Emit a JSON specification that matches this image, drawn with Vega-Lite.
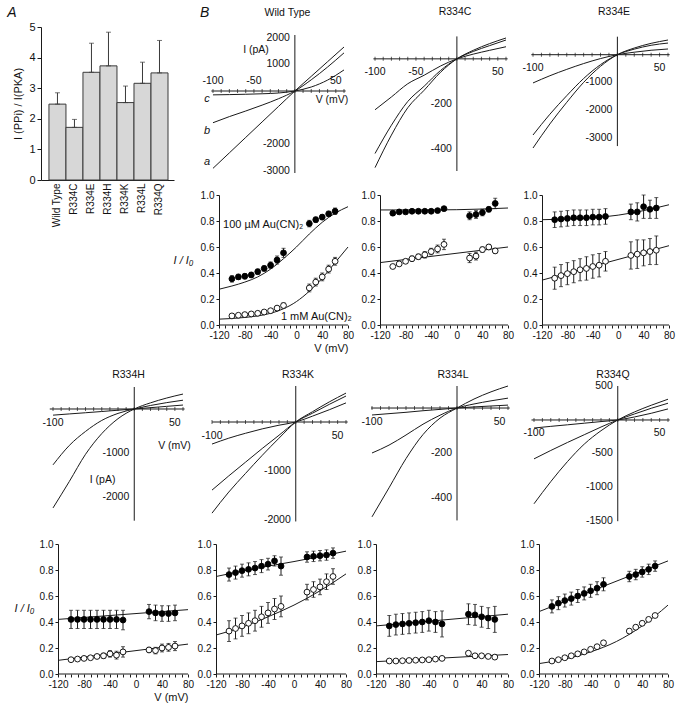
{
"$schema": "https://vega.github.io/schema/vega-lite/v6.json",
"padding": {"left": 7, "top": 5, "right": 5, "bottom": 5},
"background": "white",
"config": {"view": {"stroke": null}, "font": "Liberation Sans",
 "axis": {"grid": false, "domainColor": "#1a1a1a", "tickColor": "#1a1a1a", "labelColor": "#111111", "titleColor": "#111111", "titleFontWeight": "normal", "labelFlush": false},
 "title": {"fontWeight": "normal", "color": "#111111", "fontSize": 10.5},
 "text": {"color": "#111111"}},
"datasets": {
 "ivticks": [{"V":-100,"I":0},{"V":-90,"I":0},{"V":-80,"I":0},{"V":-70,"I":0},{"V":-60,"I":0},{"V":-50,"I":0},{"V":-40,"I":0},{"V":-30,"I":0},{"V":-20,"I":0},{"V":-10,"I":0},{"V":0,"I":0},{"V":10,"I":0},{"V":20,"I":0},{"V":30,"I":0},{"V":40,"I":0},{"V":50,"I":0},{"V":60,"I":0}]
},
"columns": 4,
"bounds": "flush",
"spacing": {"row": 15, "column": 24},
"concat": [
 {"width": 133, "height": 153,
  "data": {"values": [{"mutant":"Wild Type","ratio":2.48,"upper":2.85},{"mutant":"R334C","ratio":1.72,"upper":1.98},{"mutant":"R334E","ratio":3.52,"upper":4.47},{"mutant":"R334H","ratio":3.73,"upper":4.83},{"mutant":"R334K","ratio":2.53,"upper":3.07},{"mutant":"R334L","ratio":3.16,"upper":3.85},{"mutant":"R334Q","ratio":3.5,"upper":4.56}]},
  "encoding": {"x": {"field": "mutant", "type": "nominal", "sort": null, "scale": {"paddingInner": 0, "paddingOuter": 0.41, "align": 0.57},
     "axis": {"title": null, "labelAngle": -90, "ticks": false, "labelFontSize": 10, "labelPadding": 3}},
   "y": {"field": "ratio", "type": "quantitative", "scale": {"domain": [0, 5], "nice": false},
      "axis": {"title": "I (PPi) / I(PKA)", "values": [0,1,2,3,4,5], "format": "d", "tickSize": 4, "labelFontSize": 11, "titleFontSize": 11, "titlePadding": 5, "labelPadding": 2}}},
  "layer": [
   {"mark": {"type": "bar", "fill": "#d7d7d7", "stroke": "#3a3a3a", "strokeWidth": 1}},
   {"mark": {"type": "errorbar", "ticks": {"size": 5}, "color": "#3a3a3a", "thickness": 1}, "encoding": {"y2": {"field": "upper"}}},
   {"data": {"values": [{"mutant":"Wild Type","ratio":5.46,"t":"A"}]}, "mark": {"type": "text", "fontSize": 14, "fontStyle": "italic", "dx": -45.5}, "encoding": {"text": {"field": "t", "type": "nominal"}}}
  ]},
 {"width": 132, "height": 144,
  "encoding": {"x": {"field": "V", "type": "quantitative", "scale": {"domain": [-101.2, 60], "nice": false, "zero": false}, "axis": null},
               "y": {"field": "I", "type": "quantitative", "scale": {"domain": [-3000, 2400], "nice": false, "zero": false}, "axis": null}},
  "layer": [
   {"data": {"values": [
     {"V":-100,"I":-2900,"tr":"a"},{"V":-80,"I":-2320,"tr":"a"},{"V":-60,"I":-1740,"tr":"a"},{"V":-40,"I":-1160,"tr":"a"},{"V":-20,"I":-580,"tr":"a"},{"V":0,"I":0,"tr":"a"},{"V":20,"I":550,"tr":"a"},{"V":40,"I":1100,"tr":"a"},{"V":60,"I":1650,"tr":"a"},
     {"V":-100,"I":-1190,"tr":"b"},{"V":-80,"I":-960,"tr":"b"},{"V":-60,"I":-750,"tr":"b"},{"V":-40,"I":-530,"tr":"b"},{"V":-20,"I":-290,"tr":"b"},{"V":0,"I":0,"tr":"b"},{"V":20,"I":420,"tr":"b"},{"V":40,"I":900,"tr":"b"},{"V":60,"I":1430,"tr":"b"},
     {"V":-100,"I":-145,"tr":"c"},{"V":-80,"I":-135,"tr":"c"},{"V":-60,"I":-122,"tr":"c"},{"V":-40,"I":-104,"tr":"c"},{"V":-20,"I":-75,"tr":"c"},{"V":0,"I":0,"tr":"c"},{"V":20,"I":150,"tr":"c"},{"V":40,"I":410,"tr":"c"},{"V":60,"I":790,"tr":"c"}]},
    "mark": {"type": "line", "color": "#1a1a1a", "strokeWidth": 1, "interpolate": "monotone"}, "encoding": {"detail": {"field": "tr", "type": "nominal"}}},
   {"data": {"values": [{"V": -102, "V2": 62, "I": 0}]}, "mark": {"type": "rule", "color": "#1a1a1a"}, "encoding": {"x2": {"field": "V2"}}},
   {"data": {"values": [{"V": 0, "I": -3075, "I2": 2100}]}, "mark": {"type": "rule", "color": "#1a1a1a"}, "encoding": {"y2": {"field": "I2"}}},
   {"data": {"name": "ivticks"}, "mark": {"type": "tick", "orient": "vertical", "size": 4, "thickness": 1, "color": "#1a1a1a"}},
   {"data": {"values": [{"V":-100,"I":0,"t":"-100"},{"V":-50,"I":0,"t":"-50"},{"V":50,"I":0,"t":"50"}]}, "mark": {"type": "text", "fontSize": 10.5, "dy": -10}, "encoding": {"text": {"field": "t", "type": "nominal"}}},
   {"data": {"values": [{"V":0,"I":2000,"t":"2000"},{"V":0,"I":1000,"t":"1000"},{"V":0,"I":-2000,"t":"-2000"},{"V":0,"I":-3000,"t":"-3000"}]}, "mark": {"type": "text", "fontSize": 10.5, "align": "right", "dx": -5}, "encoding": {"text": {"field": "t", "type": "nominal"}}},
   {"data": {"values": [{"V":-47.5,"I":1537,"t":"I (pA)"},{"V":45.3,"I":-337,"t":"V (mV)"},{"V":-9,"I":2943,"t":"Wild Type"}]}, "mark": {"type": "text", "fontSize": 10.5}, "encoding": {"text": {"field": "t", "type": "nominal"}}},
   {"data": {"values": [{"V":-107.3,"I":-300,"t":"c"},{"V":-107.3,"I":-1500,"t":"b"},{"V":-107.3,"I":-2662,"t":"a"}]}, "mark": {"type": "text", "fontSize": 11, "fontStyle": "italic"}, "encoding": {"text": {"field": "t", "type": "nominal"}}},
   {"data": {"values": [{"V":-110,"I":2943,"t":"B"}]}, "mark": {"type": "text", "fontSize": 14, "fontStyle": "italic"}, "encoding": {"text": {"field": "t", "type": "nominal"}}}
  ]},
 {"width": 134, "height": 144,
  "encoding": {"x": {"field": "V", "type": "quantitative", "scale": {"domain": [-103.7, 60], "nice": false, "zero": false}, "axis": null},
               "y": {"field": "I", "type": "quantitative", "scale": {"domain": [-500, 142], "nice": false, "zero": false}, "axis": null}},
  "layer": [
   {"data": {"values": [
     {"V":-100,"I":-485,"tr":"a"},{"V":-80,"I":-340,"tr":"a"},{"V":-60,"I":-218,"tr":"a"},{"V":-40,"I":-140,"tr":"a"},{"V":-20,"I":-60,"tr":"a"},{"V":0,"I":0,"tr":"a"},{"V":20,"I":38,"tr":"a"},{"V":40,"I":68,"tr":"a"},{"V":60,"I":93,"tr":"a"},
     {"V":-100,"I":-422,"tr":"b"},{"V":-80,"I":-296,"tr":"b"},{"V":-60,"I":-190,"tr":"b"},{"V":-40,"I":-122,"tr":"b"},{"V":-20,"I":-52,"tr":"b"},{"V":0,"I":0,"tr":"b"},{"V":20,"I":33,"tr":"b"},{"V":40,"I":59,"tr":"b"},{"V":60,"I":84,"tr":"b"},
     {"V":-100,"I":-227,"tr":"c"},{"V":-80,"I":-170,"tr":"c"},{"V":-60,"I":-111,"tr":"c"},{"V":-40,"I":-73,"tr":"c"},{"V":-20,"I":-32,"tr":"c"},{"V":0,"I":0,"tr":"c"},{"V":20,"I":21,"tr":"c"},{"V":40,"I":38,"tr":"c"},{"V":60,"I":54,"tr":"c"}]},
    "mark": {"type": "line", "color": "#1a1a1a", "strokeWidth": 1, "interpolate": "monotone"}, "encoding": {"detail": {"field": "tr", "type": "nominal"}}},
   {"data": {"values": [{"V": -102, "V2": 62, "I": 0}]}, "mark": {"type": "rule", "color": "#1a1a1a"}, "encoding": {"x2": {"field": "V2"}}},
   {"data": {"values": [{"V": 0, "I": -500, "I2": 100}]}, "mark": {"type": "rule", "color": "#1a1a1a"}, "encoding": {"y2": {"field": "I2"}}},
   {"data": {"name": "ivticks"}, "mark": {"type": "tick", "orient": "vertical", "size": 4, "thickness": 1, "color": "#1a1a1a"}},
   {"data": {"values": [{"V":-100,"I":0,"t":"-100"},{"V":-50,"I":0,"t":"-50"},{"V":50,"I":0,"t":"50"}]}, "mark": {"type": "text", "fontSize": 10.5, "dy": 13}, "encoding": {"text": {"field": "t", "type": "nominal"}}},
   {"data": {"values": [{"V":0,"I":-200,"t":"-200"},{"V":0,"I":-400,"t":"-400"}]}, "mark": {"type": "text", "fontSize": 10.5, "align": "right", "dx": -5}, "encoding": {"text": {"field": "t", "type": "nominal"}}},
   {"data": {"values": [{"V":-2.3,"I":207,"t":"R334C"}]}, "mark": {"type": "text", "fontSize": 10.5}, "encoding": {"text": {"field": "t", "type": "nominal"}}}
  ]},
 {"width": 136, "height": 144,
  "encoding": {"x": {"field": "V", "type": "quantitative", "scale": {"domain": [-101.2, 60], "nice": false, "zero": false}, "axis": null},
               "y": {"field": "I", "type": "quantitative", "scale": {"domain": [-4200, 1000], "nice": false, "zero": false}, "axis": null}},
  "layer": [
   {"data": {"values": [
     {"V":-100,"I":-3370,"tr":"a"},{"V":-80,"I":-2500,"tr":"a"},{"V":-60,"I":-1720,"tr":"a"},{"V":-40,"I":-1000,"tr":"a"},{"V":-20,"I":-420,"tr":"a"},{"V":0,"I":0,"tr":"a"},{"V":20,"I":240,"tr":"a"},{"V":40,"I":410,"tr":"a"},{"V":60,"I":530,"tr":"a"},
     {"V":-100,"I":-2900,"tr":"b"},{"V":-80,"I":-2150,"tr":"b"},{"V":-60,"I":-1480,"tr":"b"},{"V":-40,"I":-860,"tr":"b"},{"V":-20,"I":-360,"tr":"b"},{"V":0,"I":0,"tr":"b"},{"V":20,"I":200,"tr":"b"},{"V":40,"I":340,"tr":"b"},{"V":60,"I":420,"tr":"b"},
     {"V":-100,"I":-1020,"tr":"c"},{"V":-80,"I":-760,"tr":"c"},{"V":-60,"I":-530,"tr":"c"},{"V":-40,"I":-320,"tr":"c"},{"V":-20,"I":-140,"tr":"c"},{"V":0,"I":0,"tr":"c"},{"V":20,"I":90,"tr":"c"},{"V":40,"I":160,"tr":"c"},{"V":60,"I":206,"tr":"c"}]},
    "mark": {"type": "line", "color": "#1a1a1a", "strokeWidth": 1, "interpolate": "monotone"}, "encoding": {"detail": {"field": "tr", "type": "nominal"}}},
   {"data": {"values": [{"V": -102, "V2": 62, "I": 0}]}, "mark": {"type": "rule", "color": "#1a1a1a"}, "encoding": {"x2": {"field": "V2"}}},
   {"data": {"values": [{"V": 0, "I": -3300, "I2": 650}]}, "mark": {"type": "rule", "color": "#1a1a1a"}, "encoding": {"y2": {"field": "I2"}}},
   {"data": {"name": "ivticks"}, "mark": {"type": "tick", "orient": "vertical", "size": 4, "thickness": 1, "color": "#1a1a1a"}},
   {"data": {"values": [{"V":-100,"I":0,"t":"-100"},{"V":50,"I":0,"t":"50"}]}, "mark": {"type": "text", "fontSize": 10.5, "dy": 13}, "encoding": {"text": {"field": "t", "type": "nominal"}}},
   {"data": {"values": [{"V":0,"I":-1000,"t":"-1000"},{"V":0,"I":-2000,"t":"-2000"},{"V":0,"I":-3000,"t":"-3000"}]}, "mark": {"type": "text", "fontSize": 10.5, "align": "right", "dx": -5}, "encoding": {"text": {"field": "t", "type": "nominal"}}},
   {"data": {"values": [{"V":-4,"I":1524,"t":"R334E"}]}, "mark": {"type": "text", "fontSize": 10.5}, "encoding": {"text": {"field": "t", "type": "nominal"}}}
  ]},
 {"width": 10, "height": 176, "data": {"values": []}, "mark": "point"},
 {"width": 136, "height": 130,
  "encoding": {
   "x": {"field": "V", "type": "quantitative", "scale": {"domain": [-130.9, 80], "nice": false, "zero": false},
     "axis": {"values": [-120,-110,-100,-90,-80,-70,-60,-50,-40,-30,-20,-10,0,10,20,30,40,50,60,70,80], "labelExpr": "datum.value % 40 === 0 ? '' + datum.value : ''", "domain": false, "tickSize": 3, "labelFontSize": 10, "labelPadding": 2, "title": "V (mV)", "titleAnchor": "end", "titleFontSize": 11, "titlePadding": 2}},
   "y": {"field": "R", "type": "quantitative", "scale": {"domain": [0, 1], "nice": false, "zero": false},
     "axis": {"values": [0,0.2,0.4,0.6,0.8,1], "format": ".1f", "offset": -7, "tickSize": 3, "labelFontSize": 10, "labelPadding": 2, "title": "I / I₀", "titleAngle": 0, "titleAlign": "right", "titleBaseline": "middle", "titleX": -26, "titleY": 65, "titleFontStyle": "italic", "titleFontSize": 11}}},
  "layer": [
   {"data": {"values": [{"V": -120, "V2": 80, "R": 0}]}, "mark": {"type": "rule", "color": "#1a1a1a"}, "encoding": {"x2": {"field": "V2"}}},
   {"data": {"values": [
     {"V":-120,"R":0.275,"c":"h"},{"V":-100,"R":0.3,"c":"h"},{"V":-80,"R":0.33,"c":"h"},{"V":-60,"R":0.37,"c":"h"},{"V":-40,"R":0.43,"c":"h"},{"V":-20,"R":0.51,"c":"h"},{"V":0,"R":0.6,"c":"h"},{"V":20,"R":0.7,"c":"h"},{"V":40,"R":0.79,"c":"h"},{"V":60,"R":0.86,"c":"h"},{"V":80,"R":0.91,"c":"h"},
     {"V":-120,"R":0.045,"c":"m"},{"V":-100,"R":0.05,"c":"m"},{"V":-80,"R":0.058,"c":"m"},{"V":-60,"R":0.07,"c":"m"},{"V":-40,"R":0.09,"c":"m"},{"V":-20,"R":0.125,"c":"m"},{"V":0,"R":0.18,"c":"m"},{"V":20,"R":0.26,"c":"m"},{"V":40,"R":0.36,"c":"m"},{"V":60,"R":0.48,"c":"m"},{"V":80,"R":0.6,"c":"m"}]},
    "mark": {"type": "line", "color": "#1a1a1a", "strokeWidth": 1, "interpolate": "monotone"}, "encoding": {"detail": {"field": "c", "type": "nominal"}}},
   {"data": {"values": [
     {"V":-100,"R":0.355,"e":0.025,"c":"h"},{"V":-90,"R":0.37,"e":0.02,"c":"h"},{"V":-80,"R":0.375,"e":0.02,"c":"h"},{"V":-70,"R":0.385,"e":0.02,"c":"h"},{"V":-60,"R":0.41,"e":0.02,"c":"h"},{"V":-50,"R":0.435,"e":0.02,"c":"h"},{"V":-40,"R":0.46,"e":0.025,"c":"h"},{"V":-30,"R":0.5,"e":0.03,"c":"h"},{"V":-20,"R":0.555,"e":0.035,"c":"h"},
     {"V":20,"R":0.78,"e":0.025,"c":"h"},{"V":30,"R":0.81,"e":0.02,"c":"h"},{"V":40,"R":0.83,"e":0.02,"c":"h"},{"V":50,"R":0.855,"e":0.02,"c":"h"},{"V":60,"R":0.875,"e":0.025,"c":"h"},
     {"V":-100,"R":0.07,"e":0.01,"c":"m"},{"V":-90,"R":0.075,"e":0.01,"c":"m"},{"V":-80,"R":0.08,"e":0.01,"c":"m"},{"V":-70,"R":0.085,"e":0.01,"c":"m"},{"V":-60,"R":0.09,"e":0.01,"c":"m"},{"V":-50,"R":0.1,"e":0.01,"c":"m"},{"V":-40,"R":0.11,"e":0.012,"c":"m"},{"V":-30,"R":0.13,"e":0.015,"c":"m"},{"V":-20,"R":0.15,"e":0.02,"c":"m"},
     {"V":20,"R":0.285,"e":0.03,"c":"m"},{"V":30,"R":0.33,"e":0.03,"c":"m"},{"V":40,"R":0.37,"e":0.03,"c":"m"},{"V":50,"R":0.43,"e":0.03,"c":"m"},{"V":60,"R":0.49,"e":0.03,"c":"m"}]},
    "layer": [
     {"mark": {"type": "errorbar", "ticks": {"size": 4}, "color": "#1a1a1a", "thickness": 1}, "encoding": {"yError": {"field": "e"}}},
     {"mark": {"type": "point", "filled": true, "size": 34, "stroke": "#000000", "strokeWidth": 0.9, "opacity": 1}, "encoding": {"fill": {"field": "c", "type": "nominal", "scale": {"domain": ["h","m"], "range": ["#000000","#ffffff"]}, "legend": null}}}
    ]},
   {"data": {"values": [{"V":-113.8,"R":0.77,"t":"100 µM Au(CN)₂"},{"V":-24,"R":0.062,"t":"1 mM Au(CN)₂"}]}, "mark": {"type": "text", "align": "left", "fontSize": 11}, "encoding": {"text": {"field": "t", "type": "nominal"}}}
  ]},
 {"width": 136, "height": 130,
  "encoding": {
   "x": {"field": "V", "type": "quantitative", "scale": {"domain": [-132.5, 80], "nice": false, "zero": false},
     "axis": {"values": [-120,-110,-100,-90,-80,-70,-60,-50,-40,-30,-20,-10,0,10,20,30,40,50,60,70,80], "labelExpr": "datum.value % 40 === 0 ? '' + datum.value : ''", "domain": false, "tickSize": 3, "labelFontSize": 10, "labelPadding": 2, "title": null}},
   "y": {"field": "R", "type": "quantitative", "scale": {"domain": [0, 1], "nice": false, "zero": false},
     "axis": {"values": [0,0.2,0.4,0.6,0.8,1], "format": ".1f", "offset": -8, "tickSize": 3, "labelFontSize": 10, "labelPadding": 2, "title": null}}},
  "layer": [
   {"data": {"values": [{"V": -120, "V2": 80, "R": 0}]}, "mark": {"type": "rule", "color": "#1a1a1a"}, "encoding": {"x2": {"field": "V2"}}},
   {"data": {"values": [
     {"V":-120,"R":0.885,"c":"h"},{"V":-40,"R":0.885,"c":"h"},{"V":0,"R":0.887,"c":"h"},{"V":40,"R":0.892,"c":"h"},{"V":80,"R":0.9,"c":"h"},
     {"V":-120,"R":0.48,"c":"m"},{"V":-20,"R":0.54,"c":"m"},{"V":80,"R":0.6,"c":"m"}]},
    "mark": {"type": "line", "color": "#1a1a1a", "strokeWidth": 1, "interpolate": "monotone"}, "encoding": {"detail": {"field": "c", "type": "nominal"}}},
   {"data": {"values": [
     {"V":-100,"R":0.86,"e":0.012,"c":"h"},{"V":-90,"R":0.87,"e":0.01,"c":"h"},{"V":-80,"R":0.87,"e":0.01,"c":"h"},{"V":-70,"R":0.875,"e":0.01,"c":"h"},{"V":-60,"R":0.875,"e":0.01,"c":"h"},{"V":-50,"R":0.875,"e":0.01,"c":"h"},{"V":-40,"R":0.875,"e":0.01,"c":"h"},{"V":-30,"R":0.88,"e":0.01,"c":"h"},{"V":-20,"R":0.895,"e":0.012,"c":"h"},
     {"V":20,"R":0.84,"e":0.03,"c":"h"},{"V":30,"R":0.85,"e":0.03,"c":"h"},{"V":40,"R":0.865,"e":0.025,"c":"h"},{"V":50,"R":0.89,"e":0.02,"c":"h"},{"V":60,"R":0.935,"e":0.04,"c":"h"},
     {"V":-100,"R":0.45,"e":0.01,"c":"m"},{"V":-90,"R":0.47,"e":0.012,"c":"m"},{"V":-80,"R":0.49,"e":0.015,"c":"m"},{"V":-70,"R":0.51,"e":0.02,"c":"m"},{"V":-60,"R":0.525,"e":0.02,"c":"m"},{"V":-50,"R":0.54,"e":0.025,"c":"m"},{"V":-40,"R":0.565,"e":0.025,"c":"m"},{"V":-30,"R":0.585,"e":0.03,"c":"m"},{"V":-20,"R":0.62,"e":0.04,"c":"m"},
     {"V":20,"R":0.515,"e":0.035,"c":"m"},{"V":30,"R":0.53,"e":0.03,"c":"m"},{"V":40,"R":0.58,"e":0.02,"c":"m"},{"V":50,"R":0.6,"e":0.02,"c":"m"},{"V":60,"R":0.57,"e":0.02,"c":"m"}]},
    "layer": [
     {"mark": {"type": "errorbar", "ticks": {"size": 4}, "color": "#1a1a1a", "thickness": 1}, "encoding": {"yError": {"field": "e"}}},
     {"mark": {"type": "point", "filled": true, "size": 34, "stroke": "#000000", "strokeWidth": 0.9, "opacity": 1}, "encoding": {"fill": {"field": "c", "type": "nominal", "scale": {"domain": ["h","m"], "range": ["#000000","#ffffff"]}, "legend": null}}}
    ]}
  ]},
 {"width": 137, "height": 130,
  "encoding": {
   "x": {"field": "V", "type": "quantitative", "scale": {"domain": [-135.7, 80], "nice": false, "zero": false},
     "axis": {"values": [-120,-110,-100,-90,-80,-70,-60,-50,-40,-30,-20,-10,0,10,20,30,40,50,60,70,80], "labelExpr": "datum.value % 40 === 0 ? '' + datum.value : ''", "domain": false, "tickSize": 3, "labelFontSize": 10, "labelPadding": 2, "title": null}},
   "y": {"field": "R", "type": "quantitative", "scale": {"domain": [0, 1], "nice": false, "zero": false},
     "axis": {"values": [0,0.2,0.4,0.6,0.8,1], "format": ".1f", "offset": -10, "tickSize": 3, "labelFontSize": 10, "labelPadding": 2, "title": null}}},
  "layer": [
   {"data": {"values": [{"V": -120, "V2": 80, "R": 0}]}, "mark": {"type": "rule", "color": "#1a1a1a"}, "encoding": {"x2": {"field": "V2"}}},
   {"data": {"values": [
     {"V":-120,"R":0.81,"c":"h"},{"V":-80,"R":0.815,"c":"h"},{"V":-40,"R":0.825,"c":"h"},{"V":0,"R":0.845,"c":"h"},{"V":40,"R":0.88,"c":"h"},{"V":80,"R":0.925,"c":"h"},
     {"V":-120,"R":0.345,"c":"m"},{"V":-20,"R":0.478,"c":"m"},{"V":80,"R":0.61,"c":"m"}]},
    "mark": {"type": "line", "color": "#1a1a1a", "strokeWidth": 1, "interpolate": "monotone"}, "encoding": {"detail": {"field": "c", "type": "nominal"}}},
   {"data": {"values": [
     {"V":-100,"R":0.81,"e":0.06,"c":"h"},{"V":-90,"R":0.815,"e":0.06,"c":"h"},{"V":-80,"R":0.82,"e":0.06,"c":"h"},{"V":-70,"R":0.825,"e":0.06,"c":"h"},{"V":-60,"R":0.825,"e":0.06,"c":"h"},{"V":-50,"R":0.825,"e":0.06,"c":"h"},{"V":-40,"R":0.83,"e":0.06,"c":"h"},{"V":-30,"R":0.83,"e":0.06,"c":"h"},{"V":-20,"R":0.835,"e":0.06,"c":"h"},
     {"V":20,"R":0.87,"e":0.06,"c":"h"},{"V":30,"R":0.87,"e":0.07,"c":"h"},{"V":40,"R":0.91,"e":0.09,"c":"h"},{"V":50,"R":0.89,"e":0.07,"c":"h"},{"V":60,"R":0.9,"e":0.08,"c":"h"},
     {"V":-100,"R":0.36,"e":0.085,"c":"m"},{"V":-90,"R":0.38,"e":0.085,"c":"m"},{"V":-80,"R":0.395,"e":0.085,"c":"m"},{"V":-70,"R":0.41,"e":0.085,"c":"m"},{"V":-60,"R":0.425,"e":0.085,"c":"m"},{"V":-50,"R":0.435,"e":0.09,"c":"m"},{"V":-40,"R":0.45,"e":0.09,"c":"m"},{"V":-30,"R":0.46,"e":0.09,"c":"m"},{"V":-20,"R":0.49,"e":0.075,"c":"m"},
     {"V":20,"R":0.535,"e":0.105,"c":"m"},{"V":30,"R":0.545,"e":0.11,"c":"m"},{"V":40,"R":0.555,"e":0.1,"c":"m"},{"V":50,"R":0.565,"e":0.1,"c":"m"},{"V":60,"R":0.575,"e":0.11,"c":"m"}]},
    "layer": [
     {"mark": {"type": "errorbar", "ticks": {"size": 4}, "color": "#1a1a1a", "thickness": 1}, "encoding": {"yError": {"field": "e"}}},
     {"mark": {"type": "point", "filled": true, "size": 34, "stroke": "#000000", "strokeWidth": 0.9, "opacity": 1}, "encoding": {"fill": {"field": "c", "type": "nominal", "scale": {"domain": ["h","m"], "range": ["#000000","#ffffff"]}, "legend": null}}}
    ]}
  ]},
 {"width": 142, "height": 143,
  "encoding": {"x": {"field": "V", "type": "quantitative", "scale": {"domain": [-114.8, 60], "nice": false, "zero": false}, "axis": null},
               "y": {"field": "I", "type": "quantitative", "scale": {"domain": [-2729, 523], "nice": false, "zero": false}, "axis": null}},
  "layer": [
   {"data": {"values": [
     {"V":-100,"I":-2250,"tr":"a"},{"V":-80,"I":-1650,"tr":"a"},{"V":-60,"I":-1030,"tr":"a"},{"V":-40,"I":-560,"tr":"a"},{"V":-20,"I":-220,"tr":"a"},{"V":0,"I":0,"tr":"a"},{"V":20,"I":140,"tr":"a"},{"V":40,"I":250,"tr":"a"},{"V":60,"I":340,"tr":"a"},
     {"V":-100,"I":-1270,"tr":"b"},{"V":-80,"I":-830,"tr":"b"},{"V":-60,"I":-510,"tr":"b"},{"V":-40,"I":-260,"tr":"b"},{"V":-20,"I":-100,"tr":"b"},{"V":0,"I":0,"tr":"b"},{"V":20,"I":80,"tr":"b"},{"V":40,"I":145,"tr":"b"},{"V":60,"I":200,"tr":"b"},
     {"V":-100,"I":-140,"tr":"c"},{"V":-80,"I":-112,"tr":"c"},{"V":-60,"I":-85,"tr":"c"},{"V":-40,"I":-57,"tr":"c"},{"V":-20,"I":-28,"tr":"c"},{"V":0,"I":0,"tr":"c"},{"V":20,"I":30,"tr":"c"},{"V":40,"I":60,"tr":"c"},{"V":60,"I":90,"tr":"c"}]},
    "mark": {"type": "line", "color": "#1a1a1a", "strokeWidth": 1, "interpolate": "monotone"}, "encoding": {"detail": {"field": "tr", "type": "nominal"}}},
   {"data": {"values": [{"V": -104, "V2": 62, "I": 0}]}, "mark": {"type": "rule", "color": "#1a1a1a"}, "encoding": {"x2": {"field": "V2"}}},
   {"data": {"values": [{"V": 0, "I": -2540, "I2": 500}]}, "mark": {"type": "rule", "color": "#1a1a1a"}, "encoding": {"y2": {"field": "I2"}}},
   {"data": {"name": "ivticks"}, "mark": {"type": "tick", "orient": "vertical", "size": 4, "thickness": 1, "color": "#1a1a1a"}},
   {"data": {"values": [{"V":-100,"I":0,"t":"-100"},{"V":50,"I":0,"t":"50"}]}, "mark": {"type": "text", "fontSize": 10.5, "dy": 14}, "encoding": {"text": {"field": "t", "type": "nominal"}}},
   {"data": {"values": [{"V":0,"I":-1000,"t":"-1000"},{"V":0,"I":-2000,"t":"-2000"}]}, "mark": {"type": "text", "fontSize": 10.5, "align": "right", "dx": -5}, "encoding": {"text": {"field": "t", "type": "nominal"}}},
   {"data": {"values": [{"V":49.5,"I":-841,"t":"V (mV)"},{"V":-39,"I":-1615,"t":"I (pA)"},{"V":-7.1,"I":773,"t":"R334H"}]}, "mark": {"type": "text", "fontSize": 10.5}, "encoding": {"text": {"field": "t", "type": "nominal"}}}
  ]},
 {"width": 134, "height": 136,
  "encoding": {"x": {"field": "V", "type": "quantitative", "scale": {"domain": [-100, 60], "nice": false, "zero": false}, "axis": null},
               "y": {"field": "I", "type": "quantitative", "scale": {"domain": [-2041, 735], "nice": false, "zero": false}, "axis": null}},
  "layer": [
   {"data": {"values": [
     {"V":-100,"I":-1860,"tr":"a"},{"V":-80,"I":-1430,"tr":"a"},{"V":-60,"I":-1050,"tr":"a"},{"V":-40,"I":-680,"tr":"a"},{"V":-20,"I":-330,"tr":"a"},{"V":0,"I":0,"tr":"a"},{"V":20,"I":210,"tr":"a"},{"V":40,"I":410,"tr":"a"},{"V":60,"I":590,"tr":"a"},
     {"V":-100,"I":-1390,"tr":"b"},{"V":-80,"I":-1100,"tr":"b"},{"V":-60,"I":-820,"tr":"b"},{"V":-40,"I":-540,"tr":"b"},{"V":-20,"I":-270,"tr":"b"},{"V":0,"I":0,"tr":"b"},{"V":20,"I":180,"tr":"b"},{"V":40,"I":360,"tr":"b"},{"V":60,"I":530,"tr":"b"},
     {"V":-100,"I":-450,"tr":"c"},{"V":-80,"I":-330,"tr":"c"},{"V":-60,"I":-230,"tr":"c"},{"V":-40,"I":-140,"tr":"c"},{"V":-20,"I":-65,"tr":"c"},{"V":0,"I":0,"tr":"c"},{"V":20,"I":120,"tr":"c"},{"V":40,"I":250,"tr":"c"},{"V":60,"I":390,"tr":"c"}]},
    "mark": {"type": "line", "color": "#1a1a1a", "strokeWidth": 1, "interpolate": "monotone"}, "encoding": {"detail": {"field": "tr", "type": "nominal"}}},
   {"data": {"values": [{"V": -100, "V2": 62, "I": 0}]}, "mark": {"type": "rule", "color": "#1a1a1a"}, "encoding": {"x2": {"field": "V2"}}},
   {"data": {"values": [{"V": 0, "I": -2030, "I2": 735}]}, "mark": {"type": "rule", "color": "#1a1a1a"}, "encoding": {"y2": {"field": "I2"}}},
   {"data": {"name": "ivticks"}, "mark": {"type": "tick", "orient": "vertical", "size": 4, "thickness": 1, "color": "#1a1a1a"}},
   {"data": {"values": [{"V":-100,"I":0,"t":"-100"},{"V":50,"I":0,"t":"50"}]}, "mark": {"type": "text", "fontSize": 10.5, "dy": 14}, "encoding": {"text": {"field": "t", "type": "nominal"}}},
   {"data": {"values": [{"V":0,"I":-1000,"t":"-1000"},{"V":0,"I":-2000,"t":"-2000"}]}, "mark": {"type": "text", "fontSize": 10.5, "align": "right", "dx": -5}, "encoding": {"text": {"field": "t", "type": "nominal"}}},
   {"data": {"values": [{"V":2.7,"I":959,"t":"R334K"}]}, "mark": {"type": "text", "fontSize": 10.5}, "encoding": {"text": {"field": "t", "type": "nominal"}}}
  ]},
 {"width": 136, "height": 136,
  "encoding": {"x": {"field": "V", "type": "quantitative", "scale": {"domain": [-100, 60], "nice": false, "zero": false}, "axis": null},
               "y": {"field": "I", "type": "quantitative", "scale": {"domain": [-507, 98], "nice": false, "zero": false}, "axis": null}},
  "layer": [
   {"data": {"values": [
     {"V":-100,"I":-484,"tr":"a"},{"V":-80,"I":-355,"tr":"a"},{"V":-60,"I":-225,"tr":"a"},{"V":-40,"I":-118,"tr":"a"},{"V":-20,"I":-45,"tr":"a"},{"V":0,"I":0,"tr":"a"},{"V":20,"I":40,"tr":"a"},{"V":40,"I":72,"tr":"a"},{"V":60,"I":98,"tr":"a"},
     {"V":-100,"I":-200,"tr":"b"},{"V":-80,"I":-165,"tr":"b"},{"V":-60,"I":-120,"tr":"b"},{"V":-40,"I":-72,"tr":"b"},{"V":-20,"I":-32,"tr":"b"},{"V":0,"I":0,"tr":"b"},{"V":20,"I":18,"tr":"b"},{"V":40,"I":32,"tr":"b"},{"V":60,"I":44,"tr":"b"},
     {"V":-100,"I":-31,"tr":"c"},{"V":-80,"I":-25,"tr":"c"},{"V":-60,"I":-19,"tr":"c"},{"V":-40,"I":-12,"tr":"c"},{"V":-20,"I":-6,"tr":"c"},{"V":0,"I":0,"tr":"c"},{"V":20,"I":5,"tr":"c"},{"V":40,"I":9,"tr":"c"},{"V":60,"I":13,"tr":"c"}]},
    "mark": {"type": "line", "color": "#1a1a1a", "strokeWidth": 1, "interpolate": "monotone"}, "encoding": {"detail": {"field": "tr", "type": "nominal"}}},
   {"data": {"values": [{"V": -101, "V2": 62, "I": 0}]}, "mark": {"type": "rule", "color": "#1a1a1a"}, "encoding": {"x2": {"field": "V2"}}},
   {"data": {"values": [{"V": 0, "I": -500, "I2": 98}]}, "mark": {"type": "rule", "color": "#1a1a1a"}, "encoding": {"y2": {"field": "I2"}}},
   {"data": {"name": "ivticks"}, "mark": {"type": "tick", "orient": "vertical", "size": 4, "thickness": 1, "color": "#1a1a1a"}},
   {"data": {"values": [{"V":-100,"I":0,"t":"-100"},{"V":50,"I":0,"t":"50"}]}, "mark": {"type": "text", "fontSize": 10.5, "dy": 14}, "encoding": {"text": {"field": "t", "type": "nominal"}}},
   {"data": {"values": [{"V":0,"I":-200,"t":"-200"},{"V":0,"I":-400,"t":"-400"}]}, "mark": {"type": "text", "fontSize": 10.5, "align": "right", "dx": -5}, "encoding": {"text": {"field": "t", "type": "nominal"}}},
   {"data": {"values": [{"V":-4.7,"I":147,"t":"R334L"}]}, "mark": {"type": "text", "fontSize": 10.5}, "encoding": {"text": {"field": "t", "type": "nominal"}}}
  ]},
 {"width": 136, "height": 136,
  "encoding": {"x": {"field": "V", "type": "quantitative", "scale": {"domain": [-102.4, 60], "nice": false, "zero": false}, "axis": null},
               "y": {"field": "I", "type": "quantitative", "scale": {"domain": [-1522, 507], "nice": false, "zero": false}, "axis": null}},
  "layer": [
   {"data": {"values": [
     {"V":-100,"I":-1250,"tr":"a"},{"V":-80,"I":-920,"tr":"a"},{"V":-60,"I":-620,"tr":"a"},{"V":-40,"I":-360,"tr":"a"},{"V":-20,"I":-160,"tr":"a"},{"V":0,"I":0,"tr":"a"},{"V":20,"I":120,"tr":"a"},{"V":40,"I":220,"tr":"a"},{"V":60,"I":310,"tr":"a"},
     {"V":-100,"I":-580,"tr":"b"},{"V":-80,"I":-455,"tr":"b"},{"V":-60,"I":-335,"tr":"b"},{"V":-40,"I":-220,"tr":"b"},{"V":-20,"I":-105,"tr":"b"},{"V":0,"I":0,"tr":"b"},{"V":20,"I":90,"tr":"b"},{"V":40,"I":175,"tr":"b"},{"V":60,"I":250,"tr":"b"},
     {"V":-100,"I":-120,"tr":"c"},{"V":-80,"I":-95,"tr":"c"},{"V":-60,"I":-72,"tr":"c"},{"V":-40,"I":-48,"tr":"c"},{"V":-20,"I":-24,"tr":"c"},{"V":0,"I":0,"tr":"c"},{"V":20,"I":45,"tr":"c"},{"V":40,"I":100,"tr":"c"},{"V":60,"I":165,"tr":"c"}]},
    "mark": {"type": "line", "color": "#1a1a1a", "strokeWidth": 1, "interpolate": "monotone"}, "encoding": {"detail": {"field": "tr", "type": "nominal"}}},
   {"data": {"values": [{"V": -103, "V2": 62, "I": 0}]}, "mark": {"type": "rule", "color": "#1a1a1a"}, "encoding": {"x2": {"field": "V2"}}},
   {"data": {"values": [{"V": 0, "I": -1510, "I2": 507}]}, "mark": {"type": "rule", "color": "#1a1a1a"}, "encoding": {"y2": {"field": "I2"}}},
   {"data": {"name": "ivticks"}, "mark": {"type": "tick", "orient": "vertical", "size": 4, "thickness": 1, "color": "#1a1a1a"}},
   {"data": {"values": [{"V":-100,"I":0,"t":"-100"},{"V":50,"I":0,"t":"50"}]}, "mark": {"type": "text", "fontSize": 10.5, "dy": 13}, "encoding": {"text": {"field": "t", "type": "nominal"}}},
   {"data": {"values": [{"V":0,"I":500,"t":"500"},{"V":0,"I":-500,"t":"-500"},{"V":0,"I":-1000,"t":"-1000"},{"V":0,"I":-1500,"t":"-1500"}]}, "mark": {"type": "text", "fontSize": 10.5, "align": "right", "dx": -5}, "encoding": {"text": {"field": "t", "type": "nominal"}}},
   {"data": {"values": [{"V":-5.7,"I":672,"t":"R334Q"}]}, "mark": {"type": "text", "fontSize": 10.5}, "encoding": {"text": {"field": "t", "type": "nominal"}}}
  ]},
 {"width": 147, "height": 130,
  "encoding": {
   "x": {"field": "V", "type": "quantitative", "scale": {"domain": [-146.2, 80], "nice": false, "zero": false},
     "axis": {"values": [-120,-110,-100,-90,-80,-70,-60,-50,-40,-30,-20,-10,0,10,20,30,40,50,60,70,80], "labelExpr": "datum.value % 40 === 0 ? '' + datum.value : ''", "domain": false, "tickSize": 3, "labelFontSize": 10, "labelPadding": 2, "title": "V (mV)", "titleAnchor": "end", "titleFontSize": 11, "titlePadding": 2}},
   "y": {"field": "R", "type": "quantitative", "scale": {"domain": [0, 1], "nice": false, "zero": false},
     "axis": {"values": [0,0.2,0.4,0.6,0.8,1], "format": ".1f", "offset": -17, "tickSize": 3, "labelFontSize": 10, "labelPadding": 2, "title": "I / I₀", "titleAngle": 0, "titleAlign": "right", "titleBaseline": "middle", "titleX": -24, "titleY": 64, "titleFontStyle": "italic", "titleFontSize": 11}}},
  "layer": [
   {"data": {"values": [{"V": -120, "V2": 80, "R": 0}]}, "mark": {"type": "rule", "color": "#1a1a1a"}, "encoding": {"x2": {"field": "V2"}}},
   {"data": {"values": [
     {"V":-120,"R":0.42,"c":"h"},{"V":-20,"R":0.4575,"c":"h"},{"V":80,"R":0.495,"c":"h"},
     {"V":-120,"R":0.105,"c":"m"},{"V":-20,"R":0.1675,"c":"m"},{"V":80,"R":0.23,"c":"m"}]},
    "mark": {"type": "line", "color": "#1a1a1a", "strokeWidth": 1, "interpolate": "monotone"}, "encoding": {"detail": {"field": "c", "type": "nominal"}}},
   {"data": {"values": [
     {"V":-100,"R":0.42,"e":0.07,"c":"h"},{"V":-90,"R":0.42,"e":0.07,"c":"h"},{"V":-80,"R":0.42,"e":0.07,"c":"h"},{"V":-70,"R":0.42,"e":0.07,"c":"h"},{"V":-60,"R":0.42,"e":0.07,"c":"h"},{"V":-50,"R":0.42,"e":0.07,"c":"h"},{"V":-40,"R":0.42,"e":0.07,"c":"h"},{"V":-30,"R":0.42,"e":0.07,"c":"h"},{"V":-20,"R":0.415,"e":0.075,"c":"h"},
     {"V":20,"R":0.48,"e":0.055,"c":"h"},{"V":30,"R":0.47,"e":0.06,"c":"h"},{"V":40,"R":0.465,"e":0.06,"c":"h"},{"V":50,"R":0.465,"e":0.06,"c":"h"},{"V":60,"R":0.47,"e":0.06,"c":"h"},
     {"V":-100,"R":0.11,"e":0.01,"c":"m"},{"V":-90,"R":0.115,"e":0.01,"c":"m"},{"V":-80,"R":0.12,"e":0.01,"c":"m"},{"V":-70,"R":0.125,"e":0.012,"c":"m"},{"V":-60,"R":0.135,"e":0.015,"c":"m"},{"V":-50,"R":0.14,"e":0.02,"c":"m"},{"V":-40,"R":0.155,"e":0.025,"c":"m"},{"V":-30,"R":0.145,"e":0.03,"c":"m"},{"V":-20,"R":0.17,"e":0.04,"c":"m"},
     {"V":20,"R":0.185,"e":0.02,"c":"m"},{"V":30,"R":0.18,"e":0.025,"c":"m"},{"V":40,"R":0.2,"e":0.03,"c":"m"},{"V":50,"R":0.205,"e":0.03,"c":"m"},{"V":60,"R":0.215,"e":0.035,"c":"m"}]},
    "layer": [
     {"mark": {"type": "errorbar", "ticks": {"size": 4}, "color": "#1a1a1a", "thickness": 1}, "encoding": {"yError": {"field": "e"}}},
     {"mark": {"type": "point", "filled": true, "size": 34, "stroke": "#000000", "strokeWidth": 0.9, "opacity": 1}, "encoding": {"fill": {"field": "c", "type": "nominal", "scale": {"domain": ["h","m"], "range": ["#000000","#ffffff"]}, "legend": null}}}
    ]}
  ]},
 {"width": 134, "height": 130,
  "encoding": {
   "x": {"field": "V", "type": "quantitative", "scale": {"domain": [-126.2, 80], "nice": false, "zero": false},
     "axis": {"values": [-120,-110,-100,-90,-80,-70,-60,-50,-40,-30,-20,-10,0,10,20,30,40,50,60,70,80], "labelExpr": "datum.value % 40 === 0 ? '' + datum.value : ''", "domain": false, "tickSize": 3, "labelFontSize": 10, "labelPadding": 2, "title": null}},
   "y": {"field": "R", "type": "quantitative", "scale": {"domain": [0, 1], "nice": false, "zero": false},
     "axis": {"values": [0,0.2,0.4,0.6,0.8,1], "format": ".1f", "offset": -4, "tickSize": 3, "labelFontSize": 10, "labelPadding": 2, "title": null}}},
  "layer": [
   {"data": {"values": [{"V": -120, "V2": 80, "R": 0}]}, "mark": {"type": "rule", "color": "#1a1a1a"}, "encoding": {"x2": {"field": "V2"}}},
   {"data": {"values": [
     {"V":-120,"R":0.75,"c":"h"},{"V":-40,"R":0.83,"c":"h"},{"V":0,"R":0.865,"c":"h"},{"V":80,"R":0.945,"c":"h"},
     {"V":-120,"R":0.3,"c":"m"},{"V":-80,"R":0.36,"c":"m"},{"V":-40,"R":0.44,"c":"m"},{"V":0,"R":0.53,"c":"m"},{"V":40,"R":0.64,"c":"m"},{"V":80,"R":0.77,"c":"m"}]},
    "mark": {"type": "line", "color": "#1a1a1a", "strokeWidth": 1, "interpolate": "monotone"}, "encoding": {"detail": {"field": "c", "type": "nominal"}}},
   {"data": {"values": [
     {"V":-100,"R":0.765,"e":0.05,"c":"h"},{"V":-90,"R":0.78,"e":0.05,"c":"h"},{"V":-80,"R":0.795,"e":0.05,"c":"h"},{"V":-70,"R":0.805,"e":0.05,"c":"h"},{"V":-60,"R":0.815,"e":0.05,"c":"h"},{"V":-50,"R":0.83,"e":0.05,"c":"h"},{"V":-40,"R":0.845,"e":0.045,"c":"h"},{"V":-30,"R":0.87,"e":0.04,"c":"h"},{"V":-20,"R":0.83,"e":0.07,"c":"h"},
     {"V":20,"R":0.9,"e":0.04,"c":"h"},{"V":30,"R":0.905,"e":0.04,"c":"h"},{"V":40,"R":0.91,"e":0.04,"c":"h"},{"V":50,"R":0.915,"e":0.04,"c":"h"},{"V":60,"R":0.93,"e":0.04,"c":"h"},
     {"V":-100,"R":0.33,"e":0.08,"c":"m"},{"V":-90,"R":0.35,"e":0.08,"c":"m"},{"V":-80,"R":0.37,"e":0.08,"c":"m"},{"V":-70,"R":0.39,"e":0.08,"c":"m"},{"V":-60,"R":0.41,"e":0.08,"c":"m"},{"V":-50,"R":0.44,"e":0.08,"c":"m"},{"V":-40,"R":0.47,"e":0.08,"c":"m"},{"V":-30,"R":0.5,"e":0.08,"c":"m"},{"V":-20,"R":0.52,"e":0.08,"c":"m"},
     {"V":20,"R":0.63,"e":0.06,"c":"m"},{"V":30,"R":0.65,"e":0.06,"c":"m"},{"V":40,"R":0.67,"e":0.06,"c":"m"},{"V":50,"R":0.71,"e":0.06,"c":"m"},{"V":60,"R":0.75,"e":0.06,"c":"m"}]},
    "layer": [
     {"mark": {"type": "errorbar", "ticks": {"size": 4}, "color": "#1a1a1a", "thickness": 1}, "encoding": {"yError": {"field": "e"}}},
     {"mark": {"type": "point", "filled": true, "size": 34, "stroke": "#000000", "strokeWidth": 0.9, "opacity": 1}, "encoding": {"fill": {"field": "c", "type": "nominal", "scale": {"domain": ["h","m"], "range": ["#000000","#ffffff"]}, "legend": null}}}
    ]}
  ]},
 {"width": 136, "height": 130,
  "encoding": {
   "x": {"field": "V", "type": "quantitative", "scale": {"domain": [-126.2, 80], "nice": false, "zero": false},
     "axis": {"values": [-120,-110,-100,-90,-80,-70,-60,-50,-40,-30,-20,-10,0,10,20,30,40,50,60,70,80], "labelExpr": "datum.value % 40 === 0 ? '' + datum.value : ''", "domain": false, "tickSize": 3, "labelFontSize": 10, "labelPadding": 2, "title": null}},
   "y": {"field": "R", "type": "quantitative", "scale": {"domain": [0, 1], "nice": false, "zero": false},
     "axis": {"values": [0,0.2,0.4,0.6,0.8,1], "format": ".1f", "offset": -4, "tickSize": 3, "labelFontSize": 10, "labelPadding": 2, "title": null}}},
  "layer": [
   {"data": {"values": [{"V": -120, "V2": 80, "R": 0}]}, "mark": {"type": "rule", "color": "#1a1a1a"}, "encoding": {"x2": {"field": "V2"}}},
   {"data": {"values": [
     {"V":-120,"R":0.37,"c":"h"},{"V":-20,"R":0.415,"c":"h"},{"V":80,"R":0.46,"c":"h"},
     {"V":-120,"R":0.095,"c":"m"},{"V":-20,"R":0.1225,"c":"m"},{"V":80,"R":0.15,"c":"m"}]},
    "mark": {"type": "line", "color": "#1a1a1a", "strokeWidth": 1, "interpolate": "monotone"}, "encoding": {"detail": {"field": "c", "type": "nominal"}}},
   {"data": {"values": [
     {"V":-100,"R":0.37,"e":0.08,"c":"h"},{"V":-90,"R":0.38,"e":0.08,"c":"h"},{"V":-80,"R":0.385,"e":0.08,"c":"h"},{"V":-70,"R":0.39,"e":0.08,"c":"h"},{"V":-60,"R":0.395,"e":0.08,"c":"h"},{"V":-50,"R":0.4,"e":0.08,"c":"h"},{"V":-40,"R":0.41,"e":0.08,"c":"h"},{"V":-30,"R":0.4,"e":0.08,"c":"h"},{"V":-20,"R":0.385,"e":0.1,"c":"h"},
     {"V":20,"R":0.46,"e":0.08,"c":"h"},{"V":30,"R":0.455,"e":0.08,"c":"h"},{"V":40,"R":0.44,"e":0.08,"c":"h"},{"V":50,"R":0.43,"e":0.08,"c":"h"},{"V":60,"R":0.42,"e":0.1,"c":"h"},
     {"V":-100,"R":0.1,"e":0.01,"c":"m"},{"V":-90,"R":0.1,"e":0.01,"c":"m"},{"V":-80,"R":0.102,"e":0.01,"c":"m"},{"V":-70,"R":0.104,"e":0.01,"c":"m"},{"V":-60,"R":0.106,"e":0.01,"c":"m"},{"V":-50,"R":0.108,"e":0.01,"c":"m"},{"V":-40,"R":0.11,"e":0.01,"c":"m"},{"V":-30,"R":0.115,"e":0.01,"c":"m"},{"V":-20,"R":0.12,"e":0.01,"c":"m"},
     {"V":20,"R":0.16,"e":0.012,"c":"m"},{"V":30,"R":0.14,"e":0.012,"c":"m"},{"V":40,"R":0.14,"e":0.012,"c":"m"},{"V":50,"R":0.135,"e":0.012,"c":"m"},{"V":60,"R":0.13,"e":0.012,"c":"m"}]},
    "layer": [
     {"mark": {"type": "errorbar", "ticks": {"size": 4}, "color": "#1a1a1a", "thickness": 1}, "encoding": {"yError": {"field": "e"}}},
     {"mark": {"type": "point", "filled": true, "size": 34, "stroke": "#000000", "strokeWidth": 0.9, "opacity": 1}, "encoding": {"fill": {"field": "c", "type": "nominal", "scale": {"domain": ["h","m"], "range": ["#000000","#ffffff"]}, "legend": null}}}
    ]}
  ]},
 {"width": 136, "height": 130,
  "encoding": {
   "x": {"field": "V", "type": "quantitative", "scale": {"domain": [-130.9, 80], "nice": false, "zero": false},
     "axis": {"values": [-120,-110,-100,-90,-80,-70,-60,-50,-40,-30,-20,-10,0,10,20,30,40,50,60,70,80], "labelExpr": "datum.value % 40 === 0 ? '' + datum.value : ''", "domain": false, "tickSize": 3, "labelFontSize": 10, "labelPadding": 2, "title": null}},
   "y": {"field": "R", "type": "quantitative", "scale": {"domain": [0, 1], "nice": false, "zero": false},
     "axis": {"values": [0,0.2,0.4,0.6,0.8,1], "format": ".1f", "offset": -7, "tickSize": 3, "labelFontSize": 10, "labelPadding": 2, "title": null}}},
  "layer": [
   {"data": {"values": [{"V": -120, "V2": 80, "R": 0}]}, "mark": {"type": "rule", "color": "#1a1a1a"}, "encoding": {"x2": {"field": "V2"}}},
   {"data": {"values": [
     {"V":-120,"R":0.48,"c":"h"},{"V":-20,"R":0.675,"c":"h"},{"V":80,"R":0.87,"c":"h"},
     {"V":-120,"R":0.08,"c":"m"},{"V":-80,"R":0.115,"c":"m"},{"V":-40,"R":0.17,"c":"m"},{"V":0,"R":0.25,"c":"m"},{"V":40,"R":0.37,"c":"m"},{"V":80,"R":0.53,"c":"m"}]},
    "mark": {"type": "line", "color": "#1a1a1a", "strokeWidth": 1, "interpolate": "monotone"}, "encoding": {"detail": {"field": "c", "type": "nominal"}}},
   {"data": {"values": [
     {"V":-100,"R":0.52,"e":0.05,"c":"h"},{"V":-90,"R":0.545,"e":0.05,"c":"h"},{"V":-80,"R":0.565,"e":0.05,"c":"h"},{"V":-70,"R":0.58,"e":0.05,"c":"h"},{"V":-60,"R":0.6,"e":0.05,"c":"h"},{"V":-50,"R":0.62,"e":0.05,"c":"h"},{"V":-40,"R":0.64,"e":0.05,"c":"h"},{"V":-30,"R":0.66,"e":0.05,"c":"h"},{"V":-20,"R":0.69,"e":0.05,"c":"h"},
     {"V":20,"R":0.75,"e":0.04,"c":"h"},{"V":30,"R":0.765,"e":0.04,"c":"h"},{"V":40,"R":0.785,"e":0.04,"c":"h"},{"V":50,"R":0.805,"e":0.04,"c":"h"},{"V":60,"R":0.83,"e":0.04,"c":"h"},
     {"V":-100,"R":0.1,"e":0.01,"c":"m"},{"V":-90,"R":0.11,"e":0.01,"c":"m"},{"V":-80,"R":0.125,"e":0.01,"c":"m"},{"V":-70,"R":0.14,"e":0.01,"c":"m"},{"V":-60,"R":0.155,"e":0.01,"c":"m"},{"V":-50,"R":0.17,"e":0.01,"c":"m"},{"V":-40,"R":0.19,"e":0.012,"c":"m"},{"V":-30,"R":0.21,"e":0.012,"c":"m"},{"V":-20,"R":0.24,"e":0.015,"c":"m"},
     {"V":20,"R":0.33,"e":0.015,"c":"m"},{"V":30,"R":0.36,"e":0.015,"c":"m"},{"V":40,"R":0.39,"e":0.015,"c":"m"},{"V":50,"R":0.42,"e":0.015,"c":"m"},{"V":60,"R":0.45,"e":0.015,"c":"m"}]},
    "layer": [
     {"mark": {"type": "errorbar", "ticks": {"size": 4}, "color": "#1a1a1a", "thickness": 1}, "encoding": {"yError": {"field": "e"}}},
     {"mark": {"type": "point", "filled": true, "size": 34, "stroke": "#000000", "strokeWidth": 0.9, "opacity": 1}, "encoding": {"fill": {"field": "c", "type": "nominal", "scale": {"domain": ["h","m"], "range": ["#000000","#ffffff"]}, "legend": null}}}
    ]}
  ]}
]
}
